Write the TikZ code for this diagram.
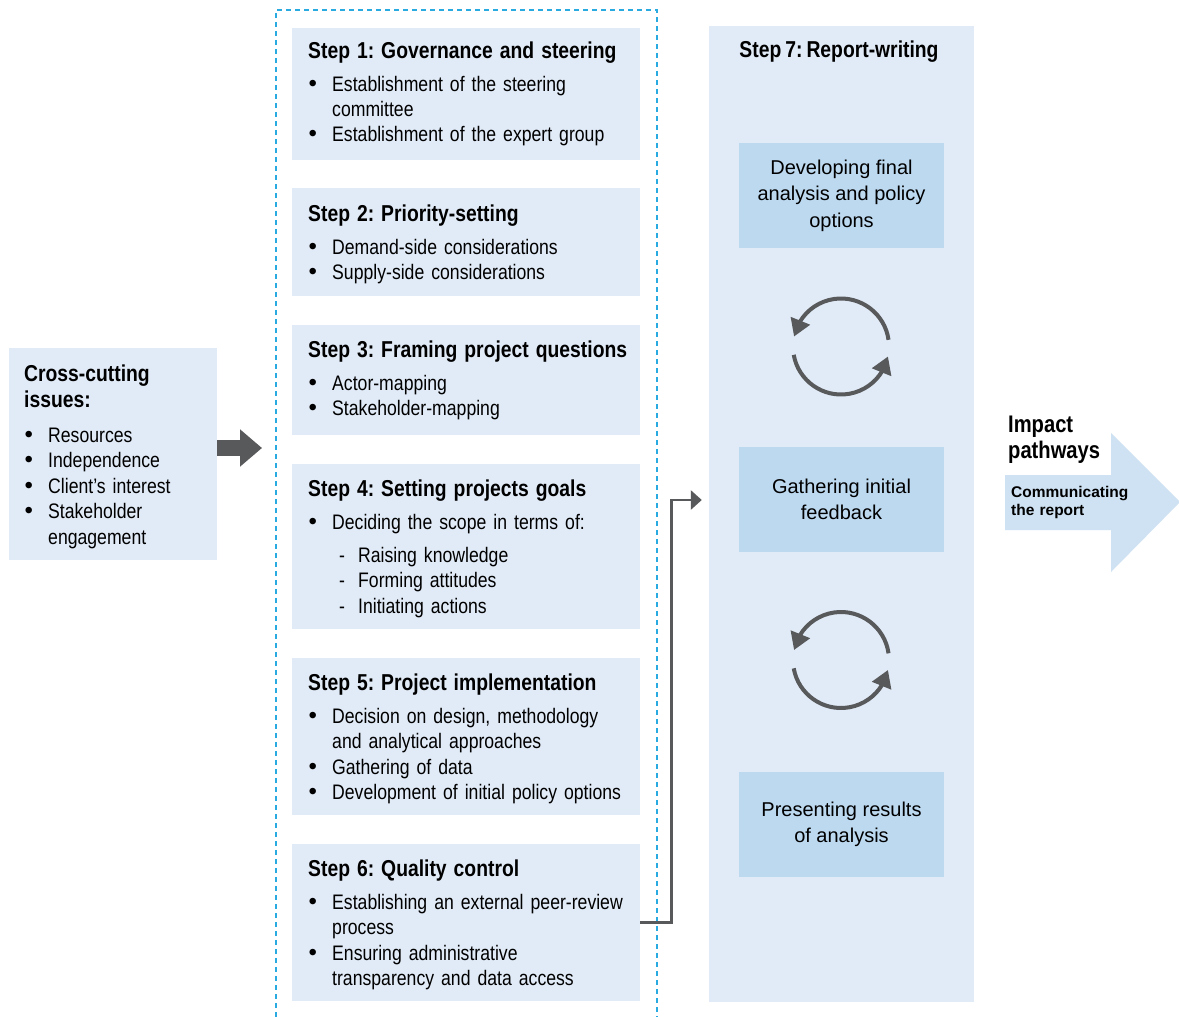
\documentclass[tikz,border=0pt]{standalone}
\usepackage{fontspec}
\setmainfont{Liberation Sans}[FakeStretch=0.84, WordSpace=0.75]
\newfontfamily\plainfont{Liberation Sans}
\usetikzlibrary{arrows.meta,bending,fit}

\definecolor{paneblue}{RGB}{225,235,247}
\definecolor{cellblue}{RGB}{189,217,240}
\definecolor{flowblue}{RGB}{207,226,243}
\definecolor{ink}{RGB}{88,89,91}
\definecolor{framecyan}{RGB}{41,171,226}

\frenchspacing
% heading line, bullet item and dash sub-item for the text blocks
\newcommand\hd[2][7.5pt]{{\bfseries\fontsize{23}{26}\selectfont #2\par}\vspace{#1}}
\newcommand\bul{{\plainfont\fontsize{24}{24}\selectfont\textbullet}}
\newcommand\bl[1]{\par\hangindent=24pt\hangafter=1\noindent\hbox to 24pt{\hspace{0.5pt}\bul\hfil}#1\par}
\newcommand\dl[1]{\par\hangindent=50pt\hangafter=1\noindent\hbox to 50pt{\hspace{31pt}-\hfil}#1\par}

\begin{document}
\begin{tikzpicture}[x=1pt,y=-1pt,
  pane/.style={fill=paneblue, draw=none, inner sep=0pt},
  cell/.style={fill=cellblue, draw=none, inner sep=0pt, minimum width=205pt,
    minimum height=105pt, align=center, font=\plainfont\fontsize{20}{26.5}\selectfont},
  body/.style={anchor=base west, inner sep=0pt, text width=#1, align=left,
    font=\fontsize{21}{25.5}\selectfont},
  body/.default=330pt,
  conn/.style={draw=ink, line width=2.7pt, -{Triangle[length=11pt,width=19pt]}},
  fat/.style={draw=ink, line width=16.6pt, -{Triangle[length=22pt,width=36pt]}},
  cyc/.style={draw=ink, line width=4pt, -{Triangle[length=17pt,width=20pt]}},
  dashbox/.style={draw=framecyan, line width=1.3pt, dash pattern=on 5pt off 4pt}]

\useasboundingbox (0,0) rectangle (1179,1017);
\fill[white] (0,0) rectangle (1179,1017);

% cross-cutting issues
\node[pane, fit={(9,348)(217,560)}] (cc) {};
\node[body=190pt] (cct) at (24,381) {%
  \hd[9.5pt]{Cross-cutting\newline issues:}%
  \bl{Resources}\bl{Independence}\bl{Client’s interest}\bl{Stakeholder\newline engagement}};
\coordinate (ccend) at (262,448);
\draw[fat] (cc.east |- ccend) -- (ccend);

% dashed frame round steps 1 to 6
\draw[dashbox] (276,1017) |- (657,10) -- (657,1017);

% steps 1 to 6
\node[pane, fit={(292,28)(640,160)}] (s1) {};
\node[body] (s1t) at (308,58) {%
  \hd{Step 1: Governance and steering}%
  \bl{Establishment of the steering\newline committee}\bl{Establishment of the expert group}};

\node[pane, fit={(292,188)(640,296)}] (s2) {};
\node[body] (s2t) at (308,221) {%
  \hd{Step 2: Priority-setting}%
  \bl{Demand-side considerations}\bl{Supply-side considerations}};

\node[pane, fit={(292,325)(640,435)}] (s3) {};
\node[body] (s3t) at (308,357) {%
  \hd{Step 3: Framing project questions}%
  \bl{Actor-mapping}\bl{Stakeholder-mapping}};

\node[pane, fit={(292,464)(640,629)}] (s4) {};
\node[body] (s4t) at (308,496) {%
  \hd{Step 4: Setting projects goals}%
  \bl{Deciding the scope in terms of:}\vspace{7.5pt}%
  \dl{Raising knowledge}\dl{Forming attitudes}\dl{Initiating actions}};

\node[pane, fit={(292,658)(640,815)}] (s5) {};
\node[body] (s5t) at (308,690) {%
  \hd{Step 5: Project implementation}%
  \bl{Decision on design, methodology\newline and analytical approaches}%
  \bl{Gathering of data}\bl{Development of initial policy options}};

\node[pane, fit={(292,844)(640,1001)}] (s6) {};
\node[body] (s6t) at (308,876) {%
  \hd{Step 6: Quality control}%
  \bl{Establishing an external peer-review\newline process}%
  \bl{Ensuring administrative\newline transparency and data access}};

% step 7
\node[pane, fit={(709,26)(974,1002)}] (s7) {};
\node[anchor=base, inner sep=0pt, font=\bfseries\fontsize{23}{26}\selectfont] (s7t) at (839,57) {Step 7: Report-writing};
\node[cell] (r1) at (841.5,195.5) {Developing final\\analysis and policy\\options};
\node[cell] (r2) at (841.5,499.5) {Gathering initial\\feedback};
\node[cell] (r3) at (841.5,824.5) {Presenting results\\of analysis};

% feedback cycles
\foreach \cy in {346.5,660} {
  \draw[cyc] ([shift={(-8:48)}]841,\cy) arc[start angle=-8, end angle=-168, radius=48];
  \draw[cyc] ([shift={(170:48)}]841,\cy) arc[start angle=170, end angle=12, radius=48];
}

\draw[conn, shorten >=7pt] (s6.east) -- ++(31.5,0) |- ([yshift=14pt]s7.west);

% impact pathways
\fill[flowblue] (1005,475) -- (1111,475) -- (1111,433) -- (1180,502)
  -- (1111,572) -- (1111,530) -- (1005,530) -- cycle;
\node[body=170pt, font=\bfseries\fontsize{24}{26.5}\selectfont] (imp) at (1008,432) {Impact\newline pathways};
\node[body=170pt, font=\plainfont\bfseries\fontsize{15.5}{18.5}\selectfont] (comm) at (1011,497) {Communicating\newline the report};

\end{tikzpicture}
\end{document}
